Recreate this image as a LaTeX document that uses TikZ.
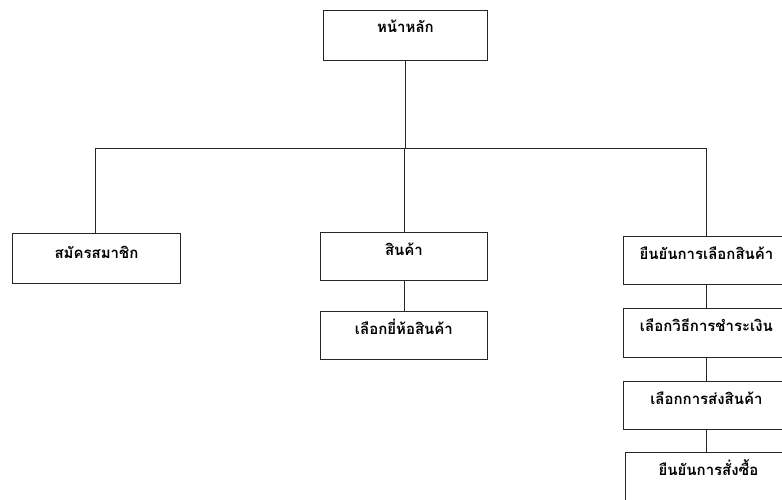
\documentclass[tikz,border=0pt]{standalone}
\usepackage{fontspec}
\newfontfamily\thaifont[Script=Thai]{Loma}
\begin{document}
\begin{tikzpicture}[x=1pt,y=-1pt,
  box/.style={draw=black!85, line width=0.9pt, anchor=north west, inner sep=0pt,
    text height=23pt, text depth=25pt, align=center, font=\thaifont\bfseries\fontsize{15}{17}\selectfont},
  link/.style={draw=black!85, line width=0.9pt}]
\useasboundingbox (0,0) rectangle (782,499);
\clip (0,0) rectangle (782,499);
\node[box, minimum width=164pt, text height=22pt, text depth=28pt] (home) at (323,10) {หน้าหลัก};
\node[box, minimum width=168pt, text height=25pt, text depth=25pt] (reg) at (12,233) {สมัครสมาชิก};
\node[box, minimum width=167pt] (prod) at (320,232) {สินค้า};
\node[box, minimum width=167pt] (brand) at (320,311) {เลือกยี่ห้อสินค้า};
\node[box, minimum width=166pt] (conf) at (623,236) {ยืนยันการเลือกสินค้า};
\node[box, minimum width=166pt, text depth=26pt] (pay) at (623,308) {เลือกวิธีการชำระเงิน};
\node[box, minimum width=166pt] (ship) at (623,381) {เลือกการส่งสินค้า};
\node[box, minimum width=166pt, text depth=40pt] (order) at (625,452) {ยืนยันการสั่งซื้อ};
\coordinate (busL) at (95,148);
\coordinate (busR) at (706,148);
\draw[link] (busL) -- (busR);
\draw[link] (home.south) -- (home.south |- busL);
\draw[link] (reg.north -| busL) -- (busL);
\draw[link] (prod.north) -- (prod.north |- busL);
\draw[link] (conf.north) -- (conf.north |- busR);
\draw[link] (prod.south) -- (brand.north);
\draw[link] (conf.south) -- (pay.north);
\draw[link] (pay.south) -- (ship.north);
\draw[link] (ship.south) -- (ship.south |- order.north);
\end{tikzpicture}
\end{document}
